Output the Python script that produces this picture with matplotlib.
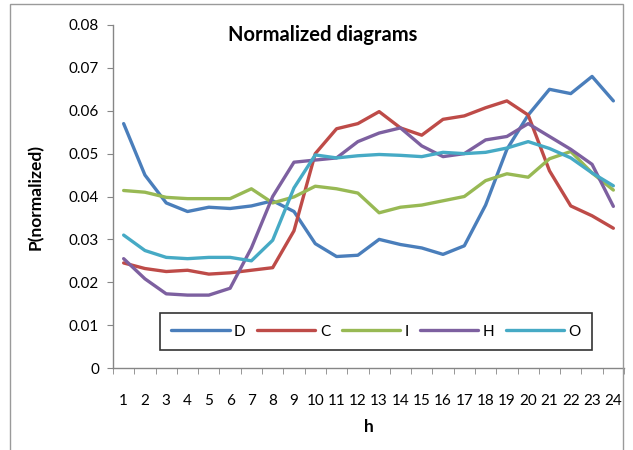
import matplotlib
matplotlib.use("Agg")
import matplotlib.pyplot as plt
from matplotlib.patches import Rectangle

plt.rcParams['font.family'] = ['Lato', 'DejaVu Sans']

hours = list(range(1, 25))
D = [0.0570, 0.0450, 0.0385, 0.0365, 0.0375, 0.0372, 0.0378, 0.0390, 0.0365, 0.0290,
     0.0260, 0.0263, 0.0300, 0.0288, 0.0280, 0.0265, 0.0285, 0.0380, 0.0510, 0.0590,
     0.0650, 0.0640, 0.0680, 0.0623]
C = [0.0245, 0.0232, 0.0225, 0.0228, 0.0219, 0.0222, 0.0228, 0.0234, 0.0320, 0.0500,
     0.0558, 0.0570, 0.0598, 0.0560, 0.0543, 0.0580, 0.0588, 0.0607, 0.0623, 0.0590,
     0.0460, 0.0378, 0.0355, 0.0326]
I = [0.0414, 0.0410, 0.0398, 0.0395, 0.0395, 0.0395, 0.0418, 0.0385, 0.0399, 0.0424,
     0.0418, 0.0408, 0.0362, 0.0375, 0.0380, 0.0390, 0.0400, 0.0437, 0.0453, 0.0445,
     0.0488, 0.0505, 0.0455, 0.0415]
H = [0.0255, 0.0208, 0.0173, 0.0170, 0.0170, 0.0186, 0.0280, 0.0400, 0.0480, 0.0485,
     0.0490, 0.0528, 0.0548, 0.0560, 0.0518, 0.0493, 0.0500, 0.0532, 0.0540, 0.0570,
     0.0540, 0.0510, 0.0475, 0.0377]
O = [0.0310, 0.0274, 0.0258, 0.0255, 0.0258, 0.0258, 0.0250, 0.0298, 0.0420, 0.0497,
     0.0490, 0.0495, 0.0498, 0.0496, 0.0493, 0.0503, 0.0500, 0.0503, 0.0513, 0.0528,
     0.0512, 0.0490, 0.0455, 0.0425]

series = [("D", D, "#4A7EBB"), ("C", C, "#BE4B48"), ("I", I, "#98B954"),
          ("H", H, "#7D60A0"), ("O", O, "#46AAC5")]

fig = plt.figure(figsize=(6.33, 4.5), dpi=100)
# outer chart frame
fig.patches.append(Rectangle((10 / 633, -0.01), 613 / 633, 1 - 4 / 450 + 0.01,
                             transform=fig.transFigure, fill=False,
                             edgecolor="#9a9a9a", lw=1.0))

ax = fig.add_axes([113 / 633, 1 - 368 / 450, 511 / 633, 343 / 450])
for name, vals, col in series:
    ax.plot(hours, vals, color=col, lw=2.4, label=name, solid_capstyle="round")

ax.set_xlim(0.5, 24.5)
ax.set_ylim(0, 0.08)
ax.set_yticks([i * 0.01 for i in range(9)])
ax.set_yticklabels(["0"] + ["%.2f" % (i * 0.01) for i in range(1, 9)], fontsize=11)
ax.set_xticks(hours)
ax.set_xticklabels([str(h) for h in hours], fontsize=11)
ax.set_xticks([i + 0.5 for i in range(0, 25)], minor=True)
ax.tick_params(axis="x", which="major", length=0, pad=19)
ax.tick_params(axis="x", which="minor", length=4, color="#868686", direction="out")
ax.tick_params(axis="y", length=4, color="#868686", direction="out", pad=6)

for s in ("top", "right"):
    ax.spines[s].set_visible(False)
for s in ("left", "bottom"):
    ax.spines[s].set_color("#868686")
    ax.spines[s].set_linewidth(1.0)

ax.set_xlabel("h", fontsize=12.5, fontweight="bold", labelpad=8)
ax.set_ylabel("P(normalized)", fontsize=12.5, fontweight="bold", labelpad=18)
ax.text(0.41, 1.0, "Normalized diagrams", transform=ax.transAxes,
        ha="center", va="top", fontsize=14.5, fontweight="bold")

leg = ax.legend(ncol=5, loc="lower left", bbox_to_anchor=(47 / 511, 18 / 343, 432 / 511, 33 / 343),
                mode="expand", frameon=True, fancybox=False, handlelength=3.8,
                fontsize=11, borderpad=0.75, borderaxespad=0, columnspacing=2.5,
                handletextpad=0.3)
leg.get_frame().set_edgecolor("black")
leg.get_frame().set_linewidth(1.2)

fig.savefig("out.png", dpi=100)
